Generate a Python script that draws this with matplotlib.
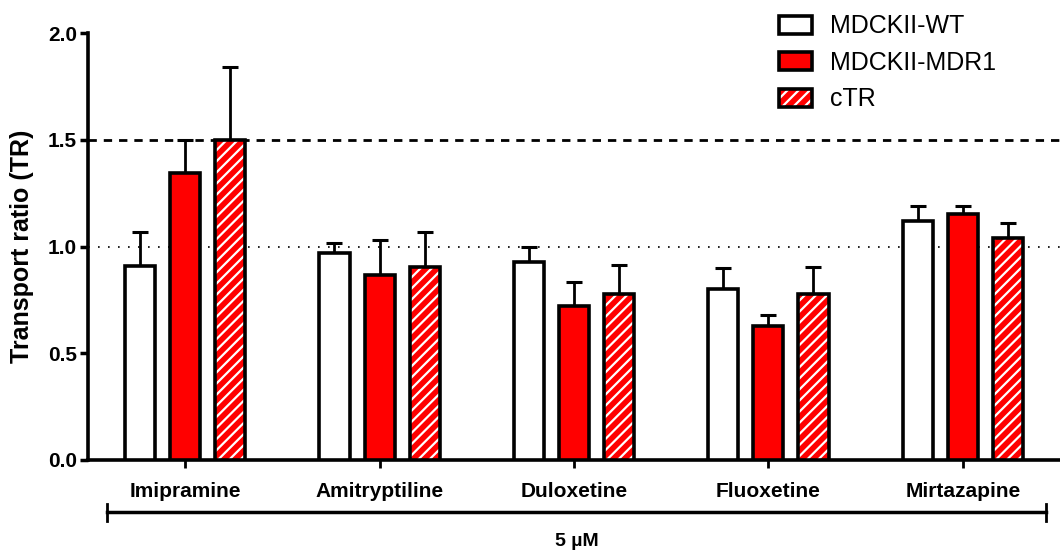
import numpy as np
import matplotlib
matplotlib.use("Agg")
import matplotlib.pyplot as plt
from matplotlib.patches import Patch
from matplotlib.lines import Line2D

plt.rcParams['font.family'] = ['Liberation Sans', 'DejaVu Sans']
plt.rcParams['hatch.linewidth'] = 1.6

drugs = ["Imipramine", "Amitryptiline", "Duloxetine", "Fluoxetine", "Mirtazapine"]
series = ["MDCKII-WT", "MDCKII-MDR1", "cTR"]

wt_mean = [0.91, 0.97, 0.93, 0.80, 1.12]
wt_sd = [0.16, 0.045, 0.07, 0.10, 0.07]
mdr1_mean = [1.345, 0.865, 0.72, 0.63, 1.155]
mdr1_sd = [0.155, 0.165, 0.115, 0.05, 0.035]
ctr_mean = [1.50, 0.905, 0.78, 0.78, 1.04]
ctr_sd = [0.34, 0.165, 0.135, 0.125, 0.07]

red = "#ff0000"
x = np.arange(len(drugs))
w = 0.155
off = 0.232

fig = plt.figure(figsize=(10.6, 5.52), dpi=100)
ax = fig.add_axes([0.083, 0.1667, 0.917, 0.773])

# reference lines
ax.axhline(1.5, color="black", lw=2, ls=(0, (3, 2.5)), zorder=1)
ax.axhline(1.0, color="black", lw=1.2, ls=(0, (1, 5)), zorder=1)

edge_lw = 2.6

def err(xpos, mean, sd):
    ax.errorbar(xpos, mean, yerr=[np.zeros(len(sd)), sd], fmt="none",
                ecolor="black", elinewidth=2, capsize=6, capthick=2.2, zorder=2)

# WT: open bars
err(x - off, wt_mean, wt_sd)
ax.bar(x - off, wt_mean, w, color="white", edgecolor="black", lw=edge_lw, zorder=3)

# MDR1: solid red
err(x, mdr1_mean, mdr1_sd)
ax.bar(x, mdr1_mean, w, color=red, edgecolor="black", lw=edge_lw, zorder=3)

# cTR: red with white hatching, black outline on top
err(x + off, ctr_mean, ctr_sd)
ax.bar(x + off, ctr_mean, w, color=red, edgecolor="white", hatch="///", lw=0, zorder=3)
ax.bar(x + off, ctr_mean, w, color="none", edgecolor="black", lw=edge_lw, zorder=4)

ax.set_xlim(-0.5, 4.5)
ax.set_ylim(0, 2.0)
ax.set_yticks([0, 0.5, 1.0, 1.5, 2.0])
ax.set_yticklabels(["0.0", "0.5", "1.0", "1.5", "2.0"], fontsize=15, fontweight="bold")
ax.set_xticks(x)
ax.set_xticklabels(drugs, fontsize=15, fontweight="bold")
ax.tick_params(axis="y", direction="out", length=6, width=2.5, pad=2)
ax.tick_params(axis="x", direction="out", length=6, width=2, pad=10)
ax.set_ylabel("Transport ratio (TR)", fontsize=18, fontweight="bold", labelpad=10)

for s in ["top", "right"]:
    ax.spines[s].set_visible(False)
ax.spines["left"].set_linewidth(2.6)
ax.spines["bottom"].set_linewidth(2.6)

# concentration bracket under the categories
by = -0.245
bx0, bx1 = -0.40, 4.43
ax.add_line(Line2D([bx0, bx1], [by, by], color="black", lw=2.5, clip_on=False))
for bx in (bx0, bx1):
    ax.add_line(Line2D([bx, bx], [by - 0.04, by + 0.04], color="black", lw=2, clip_on=False))
ax.text((bx0 + bx1) / 2, by - 0.135, "5 µM", ha="center", va="center",
        fontsize=14, fontweight="bold")

handles = [
    Patch(facecolor="white", edgecolor="black", lw=2.6),
    Patch(facecolor=red, edgecolor="black", lw=2.6),
    (Patch(facecolor=red, edgecolor="white", hatch="///", lw=0),
     Patch(facecolor="none", edgecolor="black", lw=2.6)),
]
ax.legend(handles, series, loc="upper left", bbox_to_anchor=(0.688, 1.097),
          frameon=False, fontsize=18, handlelength=1.3, handleheight=0.75,
          handletextpad=0.75, labelspacing=0.5)

fig.savefig("out.png", dpi=100)
